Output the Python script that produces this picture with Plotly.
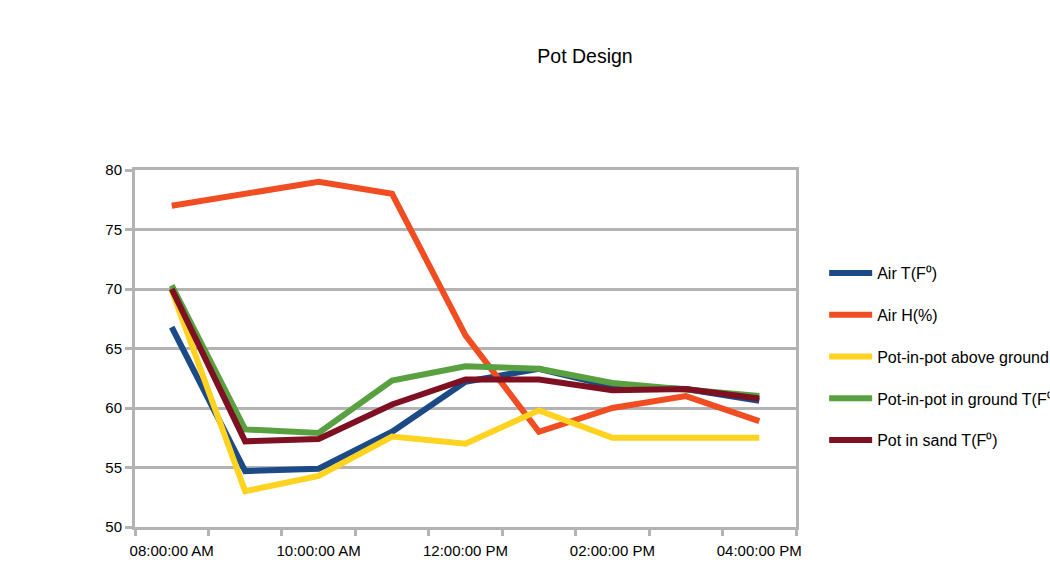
import plotly.graph_objects as go

times = ["2000-01-01 08:00", "2000-01-01 09:00", "2000-01-01 10:00", "2000-01-01 11:00",
         "2000-01-01 12:00", "2000-01-01 13:00", "2000-01-01 14:00", "2000-01-01 15:00",
         "2000-01-01 16:00"]

air_t = [66.8, 54.7, 54.9, 58.0, 62.2, 63.3, 61.8, 61.6, 60.6]
air_h = [77.0, 78.0, 79.0, 78.0, 66.1, 58.0, 60.0, 61.0, 58.9]
pip_above = [69.9, 53.0, 54.3, 57.6, 57.0, 59.8, 57.5, 57.5, 57.5]
pip_ground = [70.3, 58.2, 57.9, 62.3, 63.5, 63.3, 62.1, 61.5, 61.0]
pot_sand = [70.0, 57.2, 57.4, 60.3, 62.4, 62.4, 61.5, 61.6, 60.8]

names = ["Air T(F⁰)", "Air H(%)", "Pot-in-pot above ground T(F⁰)",
         "Pot-in-pot in ground T(F⁰)", "Pot in sand T(F⁰)"]
colors = ["#1b4a87", "#f14d22", "#ffd320", "#58a040", "#7e1022"]
series = [air_t, air_h, pip_above, pip_ground, pot_sand]

xtick_vals = ["2000-01-01 08:00", "2000-01-01 10:00", "2000-01-01 12:00",
              "2000-01-01 14:00", "2000-01-01 16:00"]
xtick_text = ["08:00:00 AM", "10:00:00 AM", "12:00:00 PM", "02:00:00 PM", "04:00:00 PM"]

fig = go.Figure()
for i, (nm, col, ys) in enumerate(zip(names, colors, series)):
    fig.add_trace(go.Scatter(x=times, y=ys, name=nm, mode="lines",
                             line=dict(color=col, width=6), legendgroup=str(i)))

grid = "#b3b3b3"
fig.update_layout(
    width=1050, height=569,
    paper_bgcolor="white", plot_bgcolor="white",
    margin=dict(l=135, r=254, t=170, b=42, autoexpand=False),
    font=dict(family="Liberation Sans, Arial, sans-serif", color="#000000", size=15),
    title=dict(text="Pot Design", x=585/1050, xanchor="center", xref="container",
               y=1-56/569, yanchor="middle", yref="container",
               font=dict(size=19.5, color="#000000")),
    showlegend=True,
    legend=dict(x=1.0426, xanchor="left", y=(527-256)/357, yanchor="top",
                font=dict(size=16), tracegroupgap=18, bgcolor="rgba(0,0,0,0)",
                itemwidth=43),
    xaxis=dict(type="date", range=["2000-01-01 07:30", "2000-01-01 16:30"],
               tickvals=xtick_vals, ticktext=xtick_text, ticks="",
               showgrid=False, showline=True, linecolor=grid, linewidth=3, mirror=True,
               ticklabelstandoff=8,
               minor=dict(ticks="outside", tick0="2000-01-01 07:30", dtick=3600000,
                          ticklen=6, tickwidth=3, tickcolor=grid, showgrid=False),
               zeroline=False),
    yaxis=dict(range=[50, 80], dtick=5, tick0=50, showgrid=True, gridcolor=grid,
               gridwidth=3, showline=True, linecolor=grid, linewidth=3, mirror=True,
               ticks="outside", ticklen=7, tickwidth=3, tickcolor=grid,
               zeroline=False),
)

fig.write_html("out.html")
